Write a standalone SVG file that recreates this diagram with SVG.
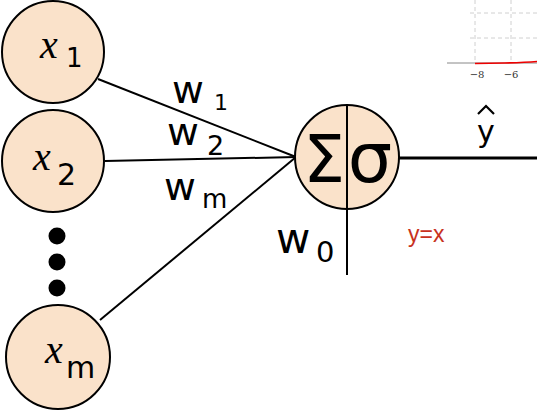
<svg xmlns="http://www.w3.org/2000/svg" width="537" height="412" viewBox="0 0 537 412">
<style>
.node{fill:#fae2ca;stroke:#000;stroke-width:2}
.edge{stroke:#000;stroke-width:2;fill:none}
.wl{font-family:"DejaVu Sans",sans-serif;fill:#000}
.mx{font-family:"Liberation Serif",serif;font-style:italic;fill:#000}
.grid{stroke:#d0d0d0;stroke-width:1;stroke-dasharray:4,3;fill:none}
.tick{font-family:"DejaVu Serif",serif;font-size:10px;fill:#333}
</style>
<rect width="537" height="412" fill="#fff"/>
<g id="chart">
<line class="grid" x1="475" y1="0" x2="475" y2="63"/>
<line class="grid" x1="511" y1="0" x2="511" y2="63"/>
<line class="grid" x1="470" y1="13" x2="537" y2="13"/>
<line class="grid" x1="470" y1="38" x2="537" y2="38"/>
<line x1="447" y1="63" x2="537" y2="63" stroke="#888" stroke-width="1"/>
<path d="M475 63.5 L505 63 Q525 62.5 537 61.5" stroke="#e00" stroke-width="1.6" fill="none"/>
<text class="tick" x="477" y="78" text-anchor="middle">−8</text>
<text class="tick" x="511" y="78" text-anchor="middle">−6</text>
</g>
<g id="connectors">
<line class="edge" x1="98" y1="79" x2="296" y2="157"/>
<line class="edge" x1="105" y1="161" x2="296" y2="157"/>
<line class="edge" x1="100" y1="320" x2="296" y2="157"/>
<line x1="399" y1="158" x2="537" y2="158" stroke="#000" stroke-width="3"/>
<line class="edge" x1="347" y1="209" x2="347" y2="275"/>
</g>
<g id="x1">
<circle class="node" cx="53" cy="52" r="51"/>
<text class="mx" x="40" y="58" font-size="40">x</text>
<text class="wl" x="66" y="67" font-size="26">1</text>
</g>
<g id="x2">
<circle class="node" cx="53" cy="161" r="51"/>
<text class="mx" x="33" y="170" font-size="40">x</text>
<text class="wl" x="57" y="185" font-size="30">2</text>
</g>
<g id="dots">
<circle cx="57" cy="236" r="8.5" fill="#000"/>
<circle cx="57" cy="262" r="8.5" fill="#000"/>
<circle cx="57" cy="288" r="8.5" fill="#000"/>
</g>
<g id="xm">
<circle class="node" cx="58" cy="357" r="52"/>
<text class="mx" x="45" y="363" font-size="40">x</text>
<text class="wl" x="66" y="378" font-size="30">m</text>
</g>
<g id="sum">
<circle class="node" cx="347" cy="157" r="52"/>
<line class="edge" x1="347" y1="105" x2="347" y2="209"/>
<text class="wl" x="324" y="182" font-size="66" text-anchor="middle">Σ</text>
<text class="wl" x="370" y="182" font-size="70" text-anchor="middle">σ</text>
</g>
<g id="labels">
<text class="wl" x="172" y="103" font-size="39">w</text>
<text class="wl" x="214" y="110" font-size="22">1</text>
<text class="wl" x="167" y="145" font-size="39">w</text>
<text class="wl" x="207" y="155" font-size="27">2</text>
<text class="wl" x="164" y="200" font-size="39">w</text>
<text class="wl" x="202" y="208" font-size="26">m</text>
<text class="wl" x="276" y="253" font-size="42">w</text>
<text class="wl" x="316" y="262" font-size="29">0</text>
<text class="wl" x="486" y="142" font-size="30" text-anchor="middle">y</text>
<path d="M478 114 L486 106 L494 114" stroke="#000" stroke-width="2.2" fill="none"/>
<text x="408" y="242" font-family="'Liberation Sans',sans-serif" font-size="23" fill="#c8321e">y=x</text>
</g>
</svg>
